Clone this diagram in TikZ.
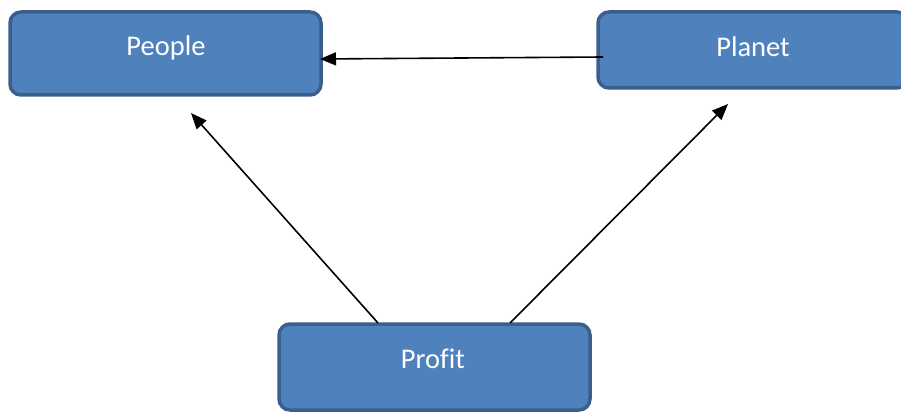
\documentclass[tikz,border=0pt]{standalone}
\usepackage{fontspec}
\setmainfont{Carlito}[Ligatures=NoCommon]
\usetikzlibrary{arrows.meta}
\begin{document}
\begin{tikzpicture}[x=1pt,y=-1pt,
  box/.style={draw=boxline,fill=boxfill,line width=3.5pt,rounded corners=11pt,inner sep=0pt},
  lbl/.style={text=white,font=\fontsize{28.5}{32}\selectfont,anchor=base,inner sep=0pt},
  conn/.style={draw=black,line width=1.6pt,-{Triangle[length=16pt,width=13pt]}}]
\definecolor{boxfill}{HTML}{4F81BD}
\definecolor{boxline}{HTML}{3A5F8C}
\useasboundingbox (0,0) rectangle (901,414);
\node[box,minimum width=311pt,minimum height=83pt] (people) at (165.5,53.5) {};
\node[box,minimum width=310pt,minimum height=76pt] (planet) at (753,50) {};
\node[box,minimum width=311pt,minimum height=86pt] (profit) at (434.5,367) {};
\node[lbl] (tpeople) at (166,56) {People};
\node[lbl] (tplanet) at (753,57) {Planet};
\node[lbl] (tprofit) at (433,368) {Prof\kern0ptit};
\coordinate (a1) at (603,57);
\coordinate (a2) at (320,59);
\coordinate (b1) at (378,323);
\coordinate (b2) at (191,113);
\coordinate (c1) at (510,323);
\coordinate (c2) at (728,104);
\draw[conn] (a1) -- (a2);
\draw[conn] (b1) -- (b2);
\draw[conn] (c1) -- (c2);
\end{tikzpicture}
\end{document}
